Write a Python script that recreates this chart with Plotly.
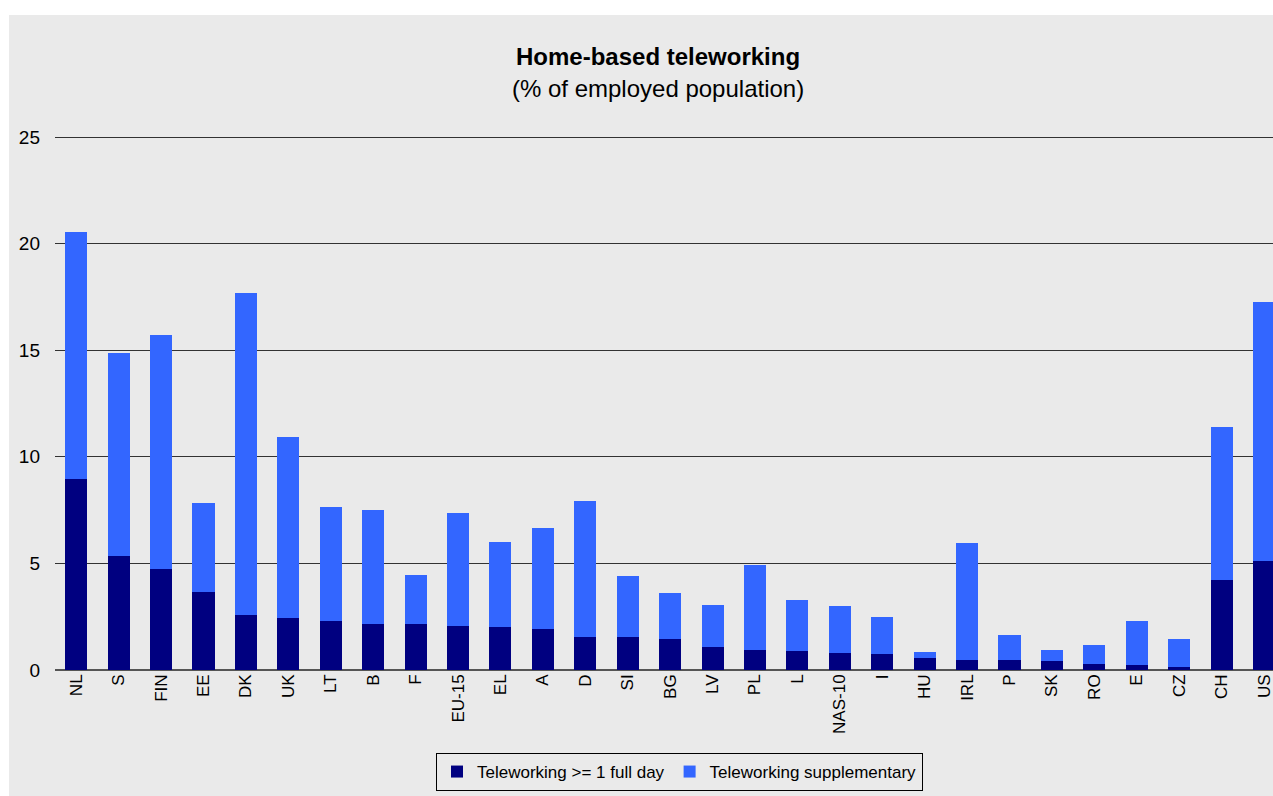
import plotly.graph_objects as go

categories = ["NL", "S", "FIN", "EE", "DK", "UK", "LT", "B", "F", "EU-15", "EL", "A", "D", "SI",
              "BG", "LV", "PL", "L", "NAS-10", "I", "HU", "IRL", "P", "SK", "RO", "E", "CZ", "CH", "US"]
full_day = [8.94, 5.34, 4.73, 3.65, 2.57, 2.43, 2.29, 2.15, 2.15, 2.06, 2.01, 1.92, 1.54, 1.54,
            1.45, 1.08, 0.94, 0.89, 0.80, 0.75, 0.56, 0.47, 0.47, 0.42, 0.28, 0.23, 0.14, 4.21, 5.10]
total = [20.55, 14.89, 15.73, 7.82, 17.70, 10.91, 7.63, 7.49, 4.45, 7.35, 5.99, 6.65, 7.91, 4.40,
         3.60, 3.04, 4.92, 3.28, 3.00, 2.48, 0.84, 5.94, 1.64, 0.94, 1.17, 2.29, 1.45, 11.38, 17.28]
supplementary = [round(t - f, 2) for t, f in zip(total, full_day)]
y_ticks = [0, 5, 10, 15, 20, 25]

BG = "#EAEAEA"
fig = go.Figure()
fig.add_trace(go.Bar(x=categories, y=full_day, name="Teleworking >= 1 full day",
                     marker=dict(color="#000080", line=dict(width=0))))
fig.add_trace(go.Bar(x=categories, y=supplementary, name="Teleworking supplementary",
                     marker=dict(color="#3366FF", line=dict(width=0))))

W, H = 1273, 796
L, R, T, B = 55, 0, 136, 126
pw, ph = W - L - R, H - T - B

def px_x(p):
    return (p - L) / pw

def px_y(p):
    return (H - B - p) / ph

fig.update_layout(
    width=W, height=H,
    barmode="stack", bargap=0.48,
    paper_bgcolor=BG, plot_bgcolor=BG,
    margin=dict(l=L, r=R, t=T, b=B, pad=0),
    font=dict(family="Arial, Liberation Sans, sans-serif", color="#000000"),
    showlegend=True,
    legend=dict(orientation="h", x=px_x(436), y=px_y(753), xanchor="left", yanchor="top",
                bgcolor=BG, bordercolor="#000000", borderwidth=1,
                font=dict(size=17), traceorder="normal", itemwidth=30),
    xaxis=dict(range=[-0.5, 28 + (W - 1264) / 42.43], tickangle=-90, tickfont=dict(size=17),
               showgrid=False, showline=False, ticks="", fixedrange=True),
    yaxis=dict(range=[0, 25.05], tickvals=y_ticks, tickfont=dict(size=19), showgrid=True,
               gridcolor="#333333", gridwidth=1, zeroline=True, zerolinecolor="#555555",
               zerolinewidth=1.5, ticks="", ticklabelstandoff=14, showline=False,
               fixedrange=True),
    annotations=[
        dict(text="<b>Home-based teleworking</b>", xref="paper", yref="paper",
             x=px_x(658), y=px_y(57), xanchor="center", yanchor="middle", showarrow=False,
             font=dict(size=24)),
        dict(text="(% of employed population)", xref="paper", yref="paper",
             x=px_x(658), y=px_y(88), xanchor="center", yanchor="middle", showarrow=False,
             font=dict(size=24)),
    ],
    shapes=[
        dict(type="rect", xref="paper", yref="paper", x0=px_x(-5), x1=px_x(W + 5),
             y0=px_y(15), y1=px_y(-5), fillcolor="#FFFFFF", line=dict(width=0), layer="below"),
        dict(type="rect", xref="paper", yref="paper", x0=px_x(-5), x1=px_x(9),
             y0=px_y(H + 5), y1=px_y(-5), fillcolor="#FFFFFF", line=dict(width=0), layer="below"),
    ],
)

fig.write_html("out.html", config={"displayModeBar": False},
               post_script="document.body.style.margin='0';document.body.style.overflow='hidden';")
